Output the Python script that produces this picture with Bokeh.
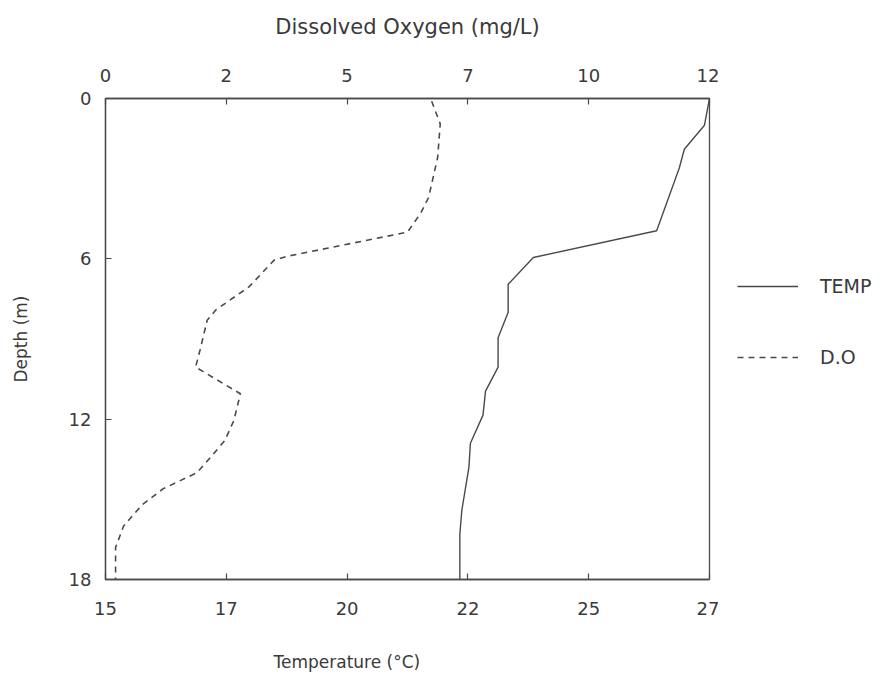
from bokeh.plotting import figure
from bokeh.layouts import row
from bokeh.models import (Range1d, LinearAxis, FixedTicker, CustomJSTickFormatter,
                          Legend, LegendItem, Title)
from bokeh.embed import file_html
from bokeh.resources import INLINE

# Temperature profile (°C) vs depth (m)
temp_depth = [0, 1.0, 1.9, 2.6, 4.95, 5.95, 6.95, 8.0, 8.95, 10.05, 10.95, 11.85, 12.9, 13.8, 15.4, 16.3, 18.0]
temp_vals = [27.0, 26.9, 26.5, 26.4, 25.95, 23.5, 23.0, 23.0, 22.8, 22.8, 22.55, 22.5, 22.25, 22.22, 22.08, 22.04, 22.04]

# Dissolved oxygen profile (mg/L) vs depth (m)
do_depth = [0.1, 0.95, 2.2, 3.7, 4.3, 5.0, 5.9, 6.05, 7.05, 7.9, 8.3, 9.4, 10.05, 11.05, 12.05, 12.8, 13.4, 14.0, 14.6, 15.2, 16.0, 16.8, 18.0]
do_vals = [6.48, 6.65, 6.6, 6.42, 6.26, 6.0, 3.62, 3.35, 2.85, 2.2, 2.02, 1.88, 1.79, 2.68, 2.55, 2.37, 2.1, 1.82, 1.15, 0.73, 0.36, 0.2, 0.2]

temp_ticks = [15, 17.4, 19.8, 22.2, 24.6, 27]
do_ticks = [0, 2.4, 4.8, 7.2, 9.6, 12]
depth_ticks = [0, 6, 12, 18]
series_labels = ["TEMP", "D.O"]

FONT = "DejaVu Sans"
TXT = "#3a3a3a"
LINE = "#4a4a4a"
H = 676
NAN = float("nan")

p = figure(width=719, height=H, output_backend="svg", toolbar_location=None,
           x_range=Range1d(15, 27), y_range=Range1d(18, 0),
           x_axis_location=None, y_axis_location=None,
           min_border_left=105, min_border_right=10, min_border_top=98, min_border_bottom=97,
           background_fill_color="white", border_fill_color="white")
p.extra_x_ranges = {"do": Range1d(0, 12)}
p.grid.visible = False
p.outline_line_color = LINE
p.outline_line_width = 1.3

fmt = CustomJSTickFormatter(code="return Math.round(tick).toString();")

def style(ax):
    ax.major_tick_in = 6
    ax.major_tick_out = 0
    ax.minor_tick_line_color = None
    ax.axis_line_color = LINE
    ax.axis_line_width = 1.3
    ax.major_tick_line_color = LINE
    ax.major_tick_line_width = 1.2
    ax.major_label_text_font = FONT
    ax.major_label_text_font_size = "18px"
    ax.major_label_text_color = TXT
    ax.axis_label_text_font = FONT
    ax.axis_label_text_font_size = "17px"
    ax.axis_label_text_font_style = "normal"
    ax.axis_label_text_color = TXT

xb = LinearAxis(ticker=FixedTicker(ticks=temp_ticks), formatter=fmt, axis_label=" ")
style(xb)
xb.major_label_standoff = 22
xb.axis_label_text_font_size = "2px"
xb.axis_label_standoff = 27
p.add_layout(xb, "below")

xt = LinearAxis(x_range_name="do", ticker=FixedTicker(ticks=do_ticks), formatter=fmt,
                axis_label="Dissolved Oxygen (mg/L)")
style(xt)
xt.axis_label_text_font_size = "21px"
xt.major_label_standoff = 17
xt.axis_label_standoff = 27
p.add_layout(xt, "above")

yl = LinearAxis(ticker=FixedTicker(ticks=depth_ticks), axis_label="Depth (m)")
style(yl)
yl.major_label_standoff = 14
yl.axis_label_standoff = 35
p.add_layout(yl, "left")

t = Title(text="Temperature (°C)", align="left", offset=168, text_font=FONT,
          text_font_size="17px", text_font_style="normal", text_color=TXT, standoff=0)
p.add_layout(t, "below")

p.line(temp_vals, temp_depth, line_color=LINE, line_width=1.4)
p.line(do_vals, do_depth, x_range_name="do", line_color=LINE, line_width=1.6, line_dash="6 5")

# Legend panel to the right of the plot (frames are aligned by the row layout)
lg = figure(width=163, height=H, output_backend="svg", toolbar_location=None,
            x_range=Range1d(0, 1), y_range=Range1d(0, 1),
            x_axis_location=None, y_axis_location=None,
            min_border_left=0, min_border_right=0, min_border_top=0, min_border_bottom=0,
            outline_line_color=None, background_fill_color="white", border_fill_color="white")
lg.grid.visible = False
k_temp = lg.line(x=[NAN], y=[NAN], line_color=LINE, line_width=1.4)
k_do = lg.line(x=[NAN], y=[NAN], line_color=LINE, line_width=1.6, line_dash="6 5")
legend = Legend(items=[LegendItem(label=series_labels[0], renderers=[k_temp]),
                       LegendItem(label=series_labels[1], renderers=[k_do])],
                location=(18, 211), glyph_width=61, glyph_height=20, label_height=20,
                spacing=49, label_standoff=22, padding=0, margin=0,
                border_line_alpha=0, background_fill_alpha=0,
                label_text_font=FONT, label_text_font_size="19px", label_text_color=TXT)
lg.add_layout(legend)

open("out.html", "w").write(file_html(row(p, lg), INLINE))
